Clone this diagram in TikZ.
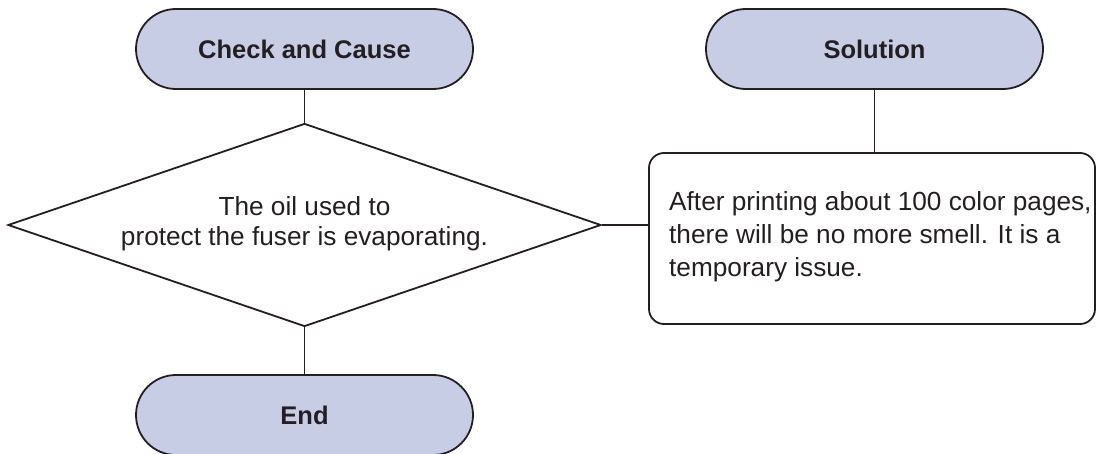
\documentclass[tikz,border=0pt]{standalone}
\usepackage{fontspec}
\setmainfont{Liberation Sans}
\usepackage{tikz}
\usetikzlibrary{shapes.geometric}

\definecolor{lavend}{RGB}{200,205,230}
\definecolor{ink}{RGB}{35,31,32}

\begin{document}
\begin{tikzpicture}[x=1pt, y=-1pt,
                every node/.style={text=ink, font=\fontsize{26.2}{30}\selectfont},
                terminal/.style={rectangle, draw=ink, line width=1.8pt, fill=lavend, rounded corners=40pt,
                                 minimum width=337pt, minimum height=80pt, font=\fontsize{25.5}{30}\selectfont\bfseries},
                cause/.style={diamond, draw=ink, line width=1.8pt, align=center, inner sep=0pt, aspect=2.92,
                              minimum width=593pt, minimum height=203pt},
                fixbox/.style={rectangle, draw=ink, line width=1.8pt, rounded corners=15pt,
                               minimum width=446pt, minimum height=171pt},
                link/.style={draw=ink, line width=1.8pt}
            ]
                \useasboundingbox (0,0) rectangle (1097,454);
                \clip (0,0) rectangle (1097,454);
                \node[terminal] (check) at (304.5,49) {Check and Cause};
                \node[terminal] (solution) at (874.5,49) {Solution};
                \node[cause] (oil) at (304.5,225) {The oil used to \\ protect the fuser is evaporating.\\[-22pt]};
                \node[terminal] (ending) at (304.5,415) {End};
                \node[fixbox] (fix) at (872,238.5) {};
                \node[anchor=west, align=left, inner xsep=0pt, font=\fontsize{26.2}{33}\selectfont] (fixtext) at (669,237) {After printing about 100 color pages,\\there will be no more smell. It is a\\temporary issue.};
                \path[link] (check) -- (oil.north);
                \path[link] (oil.south) -- (ending);
                \path[link] (oil.east) -- (oil.east -| fix.west);
                \path[link] (solution) -- (solution.south |- fix.north);
            \end{tikzpicture}
\end{document}
